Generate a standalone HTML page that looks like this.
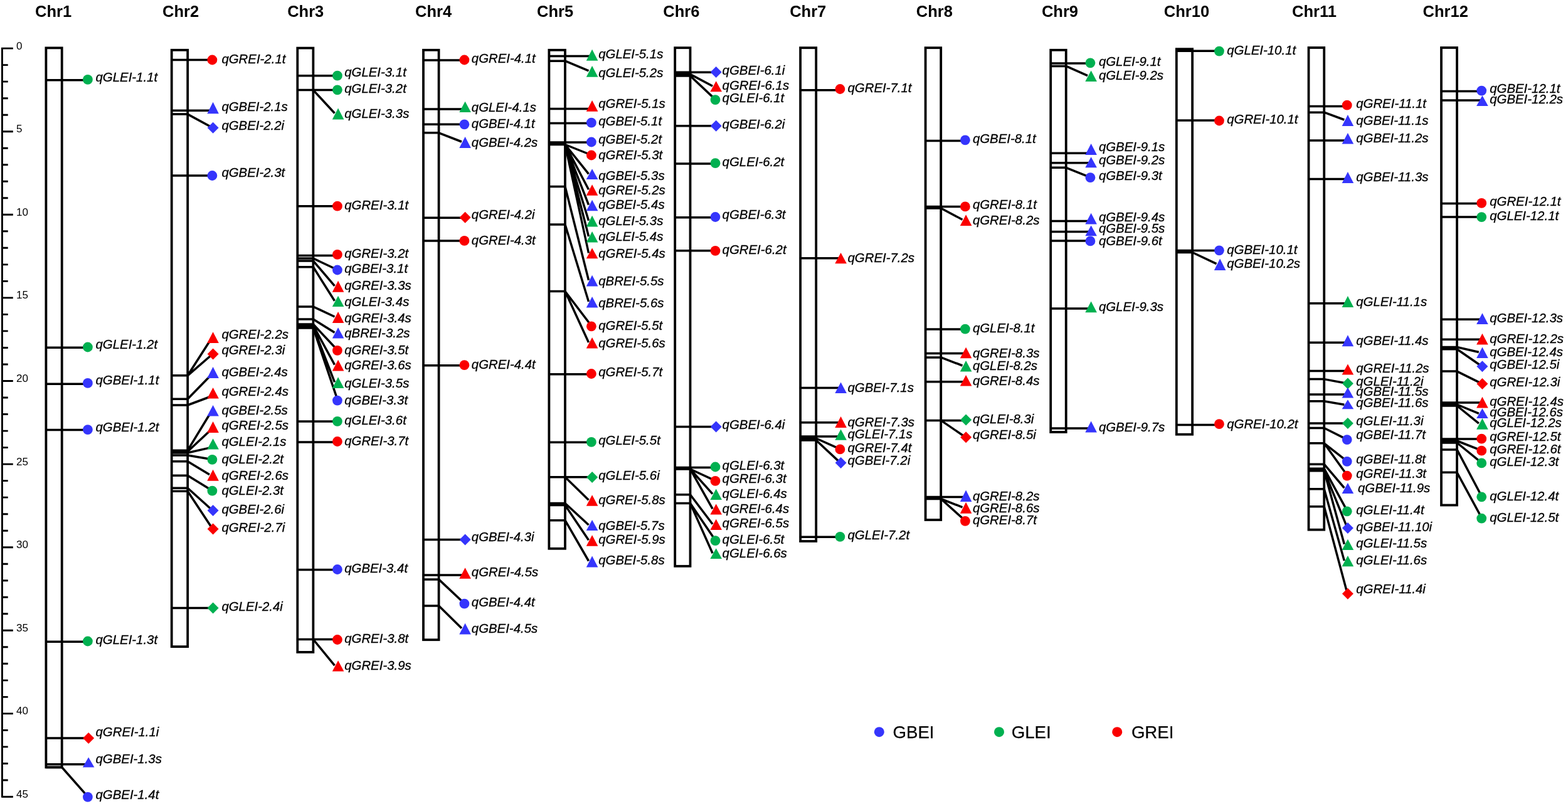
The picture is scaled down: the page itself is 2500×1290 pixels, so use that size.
<!DOCTYPE html>
<html><head><meta charset="utf-8"><title>QTL map</title>
<style>html,body{margin:0;padding:0;background:#fff;}svg{display:block;}.t{font-family:"Liberation Sans",Arial,sans-serif;font-weight:bold;font-size:25.5px;}.l{font-family:"Liberation Sans",Arial,sans-serif;font-style:italic;font-size:20.4px;stroke:#000;stroke-width:0.3px;}.a{font-family:"Liberation Sans",Arial,sans-serif;font-size:17px;}.g{font-family:"Liberation Sans",Arial,sans-serif;font-size:27.6px;stroke:#000;stroke-width:0.25px;}</style></head><body>
<svg width="2500" height="1290" viewBox="0 0 2500 1290">
<rect width="2500" height="1290" fill="#fff"/>
<path d="M3.4 75.8V1271.8M3.4 77.1H20.8M3.4 103.6H12.7M3.4 130.1H12.7M3.4 156.7H12.7M3.4 183.2H12.7M3.4 209.7H20.8M3.4 236.2H12.7M3.4 262.7H12.7M3.4 289.3H12.7M3.4 315.8H12.7M3.4 342.3H20.8M3.4 368.8H12.7M3.4 395.3H12.7M3.4 421.9H12.7M3.4 448.4H12.7M3.4 474.9H20.8M3.4 501.4H12.7M3.4 527.9H12.7M3.4 554.5H12.7M3.4 581H12.7M3.4 607.5H20.8M3.4 634H12.7M3.4 660.5H12.7M3.4 687.1H12.7M3.4 713.6H12.7M3.4 740.1H20.8M3.4 766.6H12.7M3.4 793.1H12.7M3.4 819.7H12.7M3.4 846.2H12.7M3.4 872.7H20.8M3.4 899.2H12.7M3.4 925.7H12.7M3.4 952.3H12.7M3.4 978.8H12.7M3.4 1005.3H20.8M3.4 1031.8H12.7M3.4 1058.3H12.7M3.4 1084.9H12.7M3.4 1111.4H12.7M3.4 1137.9H20.8M3.4 1164.4H12.7M3.4 1190.9H12.7M3.4 1217.5H12.7M3.4 1244H12.7M3.4 1270.5H20.8" stroke="#000" stroke-width="2.9" fill="none"/>
<text class="a" x="26" y="78.6">0</text>
<text class="a" x="26" y="211.2">5</text>
<text class="a" x="26" y="343.8">10</text>
<text class="a" x="26" y="476.4">15</text>
<text class="a" x="26" y="609">20</text>
<text class="a" x="26" y="741.6">25</text>
<text class="a" x="26" y="874.2">30</text>
<text class="a" x="26" y="1006.8">35</text>
<text class="a" x="26" y="1139.4">40</text>
<text class="a" x="26" y="1272">45</text>
<text class="t" x="56" y="26.6">Chr1</text>
<rect x="73.4" y="76.4" width="25.3" height="1147.1" fill="none" stroke="#000" stroke-width="3.8"/>
<path d="M73.4 127.8H98.7M73.4 554.2H98.7M73.4 612.2H98.7M73.4 685.4H98.7M73.4 1023.3H98.7M73.4 1176.9H98.7M73.4 1218.7H98.7M73.4 1223.5H98.7" stroke="#000" stroke-width="3.5" fill="none"/>
<path d="M98.7 127.8H140.5M98.7 554.2H140.5M98.7 612.2H140.5M98.7 685.4H140.5M98.7 1023.3H140.5M98.7 1176.9H140.5M98.7 1218.7H140.5M98.7 1223.5L140.5 1270.8" stroke="#000" stroke-width="3.5" fill="none"/>
<circle cx="139.9" cy="126.9" r="7.9" fill="#00b050"/>
<circle cx="139.9" cy="553.5" r="7.9" fill="#00b050"/>
<circle cx="139.9" cy="610.9" r="7.9" fill="#3535fc"/>
<circle cx="139.9" cy="685.1" r="7.9" fill="#3535fc"/>
<circle cx="139.9" cy="1022.5" r="7.9" fill="#00b050"/>
<path d="M141.1 1167.9L150.1 1176.9L141.1 1185.9L132.1 1176.9Z" fill="#fa0000"/>
<path d="M141.1 1207.5L150.4 1223.5L131.8 1223.5Z" fill="#3535fc"/>
<circle cx="139.9" cy="1270.8" r="7.9" fill="#3535fc"/>
<text class="l" x="152.5" y="130">qGLEI-1.1t</text>
<text class="l" x="152.5" y="556.4">qGLEI-1.2t</text>
<text class="l" x="152.5" y="613">qGBEI-1.1t</text>
<text class="l" x="152.5" y="687.8">qGBEI-1.2t</text>
<text class="l" x="152.5" y="1026.5">qGLEI-1.3t</text>
<text class="l" x="152.5" y="1173.9">qGREI-1.1i</text>
<text class="l" x="152.5" y="1217">qGBEI-1.3s</text>
<text class="l" x="152.5" y="1273.8">qGBEI-1.4t</text>
<text class="t" x="259" y="26.6">Chr2</text>
<rect x="273.7" y="79.8" width="25.5" height="951.3" fill="none" stroke="#000" stroke-width="3.8"/>
<path d="M273.7 95.5H299.2M273.7 176.2H299.2M273.7 182.1H299.2M273.7 280H299.2M273.7 598.8H299.2M273.7 636.3H299.2M273.7 646H299.2M273.7 718.2H299.2M273.7 720H299.2M273.7 722H299.2M273.7 726H299.2M273.7 735.7H299.2M273.7 758.3H299.2M273.7 778.3H299.2M273.7 783.2H299.2M273.7 969.5H299.2" stroke="#000" stroke-width="3.5" fill="none"/>
<path d="M299.2 95.5H339M299.2 176.2H339M299.2 182.1L339 203.7M299.2 280H339M299.2 598.8L334 544.5M299.2 598.8L339 564.5M299.2 636.3L334 600.5M299.2 646L334 633M299.2 718.2L334 661M299.2 720L334 687.5M299.2 722L334 714.1M299.2 726L339 732.8M299.2 735.7L334 756.7M299.2 758.3L339 782.7M299.2 778.3L339 814M299.2 783.2L339 843.5M299.2 969.5H339" stroke="#000" stroke-width="3.5" fill="none"/>
<circle cx="338.4" cy="95.5" r="7.9" fill="#fa0000"/>
<path d="M339.6 162.8L348.9 181.2L330.3 181.2Z" fill="#3535fc"/>
<path d="M339.6 194.7L348.6 203.7L339.6 212.7L330.6 203.7Z" fill="#3535fc"/>
<circle cx="338.4" cy="280" r="7.9" fill="#3535fc"/>
<path d="M339.6 529.2L348.9 547L330.3 547Z" fill="#fa0000"/>
<path d="M339.6 555.5L348.6 564.5L339.6 573.5L330.6 564.5Z" fill="#fa0000"/>
<path d="M339.6 585L348.9 603L330.3 603Z" fill="#3535fc"/>
<path d="M339.6 618L348.9 635.5L330.3 635.5Z" fill="#fa0000"/>
<path d="M339.6 646L348.9 663.5L330.3 663.5Z" fill="#3535fc"/>
<path d="M339.6 672L348.9 690L330.3 690Z" fill="#fa0000"/>
<path d="M339.6 699.2L348.9 716.6L330.3 716.6Z" fill="#00b050"/>
<circle cx="338.4" cy="732.8" r="7.9" fill="#00b050"/>
<path d="M339.6 748.7L348.9 766.7L330.3 766.7Z" fill="#fa0000"/>
<circle cx="338.4" cy="782.7" r="7.9" fill="#00b050"/>
<path d="M339.6 805L348.6 814L339.6 823L330.6 814Z" fill="#3535fc"/>
<path d="M339.6 834.5L348.6 843.5L339.6 852.5L330.6 843.5Z" fill="#fa0000"/>
<path d="M339.6 960.5L348.6 969.5L339.6 978.5L330.6 969.5Z" fill="#00b050"/>
<text class="l" x="353.4" y="100.7">qGREI-2.1t</text>
<text class="l" x="353.4" y="177.1">qGBEI-2.1s</text>
<text class="l" x="353.4" y="207.3">qGBEI-2.2i</text>
<text class="l" x="353.4" y="282.4">qGBEI-2.3t</text>
<text class="l" x="353.4" y="540.3">qGREI-2.2s</text>
<text class="l" x="353.4" y="565.2">qGREI-2.3i</text>
<text class="l" x="353.4" y="599.6">qGBEI-2.4s</text>
<text class="l" x="353.4" y="631">qGREI-2.4s</text>
<text class="l" x="353.4" y="660.5">qGBEI-2.5s</text>
<text class="l" x="353.4" y="685.4">qGREI-2.5s</text>
<text class="l" x="353.4" y="711">qGLEI-2.1s</text>
<text class="l" x="353.4" y="738.9">qGLEI-2.2t</text>
<text class="l" x="353.4" y="764.5">qGREI-2.6s</text>
<text class="l" x="353.4" y="788.9">qGLEI-2.3t</text>
<text class="l" x="353.4" y="819.2">qGBEI-2.6i</text>
<text class="l" x="353.4" y="848.2">qGREI-2.7i</text>
<text class="l" x="353.4" y="974">qGLEI-2.4i</text>
<text class="t" x="458.2" y="26.6">Chr3</text>
<rect x="474.3" y="76.6" width="25.1" height="963.3" fill="none" stroke="#000" stroke-width="3.8"/>
<path d="M474.3 120.7H499.4M474.3 143.6H499.4M474.3 328.7H499.4M474.3 407.4H499.4M474.3 412H499.4M474.3 416H499.4M474.3 425.8H499.4M474.3 489H499.4M474.3 509H499.4M474.3 517H499.4M474.3 519H499.4M474.3 521H499.4M474.3 523H499.4M474.3 672H499.4M474.3 705H499.4M474.3 908.5H499.4M474.3 1019.5H499.4" stroke="#000" stroke-width="3.5" fill="none"/>
<path d="M499.4 120.7H538.5M499.4 143.6H538.5M499.4 143.6L533.5 180.5M499.4 328.7H538.5M499.4 407.4H538.5M499.4 412L538.5 430.5M499.4 416L533.5 455.8M499.4 425.8L533.5 479.8M499.4 489L533.5 505M499.4 509L533.5 530.3M499.4 517L538.5 558.8M499.4 519L533.5 581.7M499.4 521L533.5 609.3M499.4 523L538.5 638.6M499.4 672H538.5M499.4 705H538.5M499.4 908.5H538.5M499.4 1019.5H538.5M499.4 1019.5L533.5 1061.2" stroke="#000" stroke-width="3.5" fill="none"/>
<circle cx="537.9" cy="120.7" r="7.9" fill="#00b050"/>
<circle cx="537.9" cy="143.3" r="7.9" fill="#00b050"/>
<path d="M539.1 172.5L548.4 190.5L529.8 190.5Z" fill="#00b050"/>
<circle cx="537.9" cy="328.7" r="7.9" fill="#fa0000"/>
<circle cx="537.9" cy="405.8" r="7.9" fill="#fa0000"/>
<circle cx="537.9" cy="430.5" r="7.9" fill="#3535fc"/>
<path d="M539.1 447.8L548.4 465.7L529.8 465.7Z" fill="#fa0000"/>
<path d="M539.1 471.8L548.4 489L529.8 489Z" fill="#00b050"/>
<path d="M539.1 497L548.4 515L529.8 515Z" fill="#fa0000"/>
<path d="M539.1 522.3L548.4 539.6L529.8 539.6Z" fill="#3535fc"/>
<circle cx="537.9" cy="558.8" r="7.9" fill="#fa0000"/>
<path d="M539.1 573.7L548.4 591.5L529.8 591.5Z" fill="#fa0000"/>
<path d="M539.1 601.3L548.4 618.9L529.8 618.9Z" fill="#00b050"/>
<circle cx="537.9" cy="638.6" r="7.9" fill="#3535fc"/>
<circle cx="537.9" cy="671.8" r="7.9" fill="#00b050"/>
<circle cx="537.9" cy="704" r="7.9" fill="#fa0000"/>
<circle cx="537.9" cy="908" r="7.9" fill="#3535fc"/>
<circle cx="537.9" cy="1020" r="7.9" fill="#fa0000"/>
<path d="M539.1 1053.2L548.4 1070.5L529.8 1070.5Z" fill="#fa0000"/>
<text class="l" x="549.2" y="122.2">qGLEI-3.1t</text>
<text class="l" x="549.2" y="147.8">qGLEI-3.2t</text>
<text class="l" x="549.2" y="187.6">qGLEI-3.3s</text>
<text class="l" x="549.2" y="334.1">qGREI-3.1t</text>
<text class="l" x="549.2" y="410.7">qGREI-3.2t</text>
<text class="l" x="549.2" y="434.9">qGBEI-3.1t</text>
<text class="l" x="549.2" y="462.4">qGREI-3.3s</text>
<text class="l" x="549.2" y="487.5">qGLEI-3.4s</text>
<text class="l" x="549.2" y="513.6">qGREI-3.4s</text>
<text class="l" x="549.2" y="538">qBREI-3.2s</text>
<text class="l" x="549.2" y="564.7">qGREI-3.5t</text>
<text class="l" x="549.2" y="589.2">qGREI-3.6s</text>
<text class="l" x="549.2" y="618.3">qGLEI-3.5s</text>
<text class="l" x="549.2" y="645">qGBEI-3.3t</text>
<text class="l" x="549.2" y="677.2">qGLEI-3.6t</text>
<text class="l" x="549.2" y="709.8">qGREI-3.7t</text>
<text class="l" x="549.2" y="913">qGBEI-3.4t</text>
<text class="l" x="549.2" y="1025.2">qGREI-3.8t</text>
<text class="l" x="549.2" y="1067.9">qGREI-3.9s</text>
<text class="t" x="662" y="26.6">Chr4</text>
<rect x="675" y="79.8" width="24.6" height="940.4" fill="none" stroke="#000" stroke-width="3.8"/>
<path d="M675 95.9H699.6M675 174H699.6M675 198.3H699.6M675 211.8H699.6M675 347.3H699.6M675 383.9H699.6M675 582.7H699.6M675 860.4H699.6M675 917H699.6M675 923.9H699.6M675 966H699.6" stroke="#000" stroke-width="3.5" fill="none"/>
<path d="M699.6 95.9H741M699.6 174H741M699.6 198.3H741M699.6 211.8L736 226M699.6 347.3H741M699.6 383.9H741M699.6 582.7H741M699.6 860.4H741M699.6 917H741M699.6 923.9L741 962.7M699.6 966L736 1001.7" stroke="#000" stroke-width="3.5" fill="none"/>
<circle cx="740.4" cy="95.5" r="7.9" fill="#fa0000"/>
<path d="M741.6 161.7L750.9 179L732.3 179Z" fill="#00b050"/>
<circle cx="740.4" cy="198.3" r="7.9" fill="#3535fc"/>
<path d="M741.6 218L750.9 236L732.3 236Z" fill="#3535fc"/>
<path d="M741.6 337.8L750.6 346.8L741.6 355.8L732.6 346.8Z" fill="#fa0000"/>
<circle cx="740.4" cy="383.9" r="7.9" fill="#fa0000"/>
<circle cx="740.4" cy="582.2" r="7.9" fill="#fa0000"/>
<path d="M741.6 851.4L750.6 860.4L741.6 869.4L732.6 860.4Z" fill="#3535fc"/>
<path d="M741.6 905.3L750.9 922.8L732.3 922.8Z" fill="#fa0000"/>
<circle cx="740.4" cy="962.7" r="7.9" fill="#3535fc"/>
<path d="M741.6 993.7L750.9 1011.4L732.3 1011.4Z" fill="#3535fc"/>
<text class="l" x="751.8" y="100.2">qGREI-4.1t</text>
<text class="l" x="751.8" y="177.5">qGLEI-4.1s</text>
<text class="l" x="751.8" y="203.8">qGBEI-4.1t</text>
<text class="l" x="751.8" y="234">qGBEI-4.2s</text>
<text class="l" x="751.8" y="349.2">qGREI-4.2i</text>
<text class="l" x="751.8" y="389.8">qGREI-4.3t</text>
<text class="l" x="751.8" y="588">qGREI-4.4t</text>
<text class="l" x="751.8" y="863.3">qGBEI-4.3i</text>
<text class="l" x="751.8" y="918.7">qGREI-4.5s</text>
<text class="l" x="751.8" y="967.1">qGBEI-4.4t</text>
<text class="l" x="751.8" y="1009.4">qGBEI-4.5s</text>
<text class="t" x="856" y="26.6">Chr5</text>
<rect x="875.4" y="79.8" width="25.6" height="795" fill="none" stroke="#000" stroke-width="3.8"/>
<path d="M875.4 89.5H901M875.4 97.2H901M875.4 173.4H901M875.4 196.5H901M875.4 227H901M875.4 230.5H901M875.4 297.5H901M875.4 358H901M875.4 464.5H901M875.4 596.8H901M875.4 705.2H901M875.4 760.8H901M875.4 802.5H901M875.4 805.5H901M875.4 829.7H901" stroke="#000" stroke-width="3.5" fill="none"/>
<path d="M901 89.5H943.5M901 97.2L938.5 112.9M901 173.4H943.5M901 196.5H943.5M901 227H943.5M901 230.5L943.5 247.5M901 230.5L938.5 277.3M901 230.5L938.5 302.3M901 230.5L938.5 326.7M901 230.5L938.5 351.8M901 230.5L938.5 377M901 230.5L938.5 403.5M901 297.5L938.5 446.8M901 358L938.5 481.1M901 464.5L943.5 520.3M901 464.5L938.5 545.9M901 596.8H943.5M901 705.2H943.5M901 760.8H943.5M901 760.8L938.5 797.3M901 802.5L938.5 837M901 805.5L938.5 861.3M901 829.7L938.5 894.5" stroke="#000" stroke-width="3.5" fill="none"/>
<path d="M944.1 78.8L953.4 96.7L934.8 96.7Z" fill="#00b050"/>
<path d="M944.1 104.9L953.4 122.8L934.8 122.8Z" fill="#00b050"/>
<path d="M944.1 159.9L953.4 177.8L934.8 177.8Z" fill="#fa0000"/>
<circle cx="942.9" cy="195.7" r="7.9" fill="#3535fc"/>
<circle cx="942.9" cy="226.5" r="7.9" fill="#3535fc"/>
<circle cx="942.9" cy="247.5" r="7.9" fill="#fa0000"/>
<path d="M944.1 269.3L953.4 286L934.8 286Z" fill="#3535fc"/>
<path d="M944.1 294.3L953.4 311.7L934.8 311.7Z" fill="#fa0000"/>
<path d="M944.1 318.7L953.4 336.3L934.8 336.3Z" fill="#3535fc"/>
<path d="M944.1 343.8L953.4 361.4L934.8 361.4Z" fill="#00b050"/>
<path d="M944.1 369L953.4 386.5L934.8 386.5Z" fill="#00b050"/>
<path d="M944.1 395.5L953.4 412.2L934.8 412.2Z" fill="#fa0000"/>
<path d="M944.1 438.8L953.4 456.4L934.8 456.4Z" fill="#3535fc"/>
<path d="M944.1 473.1L953.4 490.4L934.8 490.4Z" fill="#3535fc"/>
<circle cx="942.9" cy="520.3" r="7.9" fill="#fa0000"/>
<path d="M944.1 537.9L953.4 555.5L934.8 555.5Z" fill="#fa0000"/>
<circle cx="942.9" cy="596" r="7.9" fill="#fa0000"/>
<circle cx="942.9" cy="704.9" r="7.9" fill="#00b050"/>
<path d="M944.1 752L953.1 761L944.1 770L935.1 761Z" fill="#00b050"/>
<path d="M944.1 789.3L953.4 806.7L934.8 806.7Z" fill="#fa0000"/>
<path d="M944.1 829L953.4 846.1L934.8 846.1Z" fill="#3535fc"/>
<path d="M944.1 853.3L953.4 870.7L934.8 870.7Z" fill="#fa0000"/>
<path d="M944.1 886.5L953.4 904.4L934.8 904.4Z" fill="#3535fc"/>
<text class="l" x="954.2" y="93.3">qGLEI-5.1s</text>
<text class="l" x="954.2" y="123">qGLEI-5.2s</text>
<text class="l" x="954.2" y="172.4">qGREI-5.1s</text>
<text class="l" x="954.2" y="200.3">qGBEI-5.1t</text>
<text class="l" x="954.2" y="229.4">qGBEI-5.2t</text>
<text class="l" x="954.2" y="253.8">qGREI-5.3t</text>
<text class="l" x="954.2" y="286.8">qGBEI-5.3s</text>
<text class="l" x="954.2" y="309.6">qGREI-5.2s</text>
<text class="l" x="954.2" y="332.9">qGBEI-5.4s</text>
<text class="l" x="954.2" y="359">qGLEI-5.3s</text>
<text class="l" x="954.2" y="383.7">qGLEI-5.4s</text>
<text class="l" x="954.2" y="411">qGREI-5.4s</text>
<text class="l" x="954.2" y="454.7">qBREI-5.5s</text>
<text class="l" x="954.2" y="489.6">qBREI-5.6s</text>
<text class="l" x="954.2" y="526.1">qGREI-5.5t</text>
<text class="l" x="954.2" y="553.6">qGREI-5.6s</text>
<text class="l" x="954.2" y="600.1">qGREI-5.7t</text>
<text class="l" x="954.2" y="709.3">qGLEI-5.5t</text>
<text class="l" x="954.2" y="764.5">qGLEI-5.6i</text>
<text class="l" x="954.2" y="804">qGREI-5.8s</text>
<text class="l" x="954.2" y="844.7">qGBEI-5.7s</text>
<text class="l" x="954.2" y="866.8">qGREI-5.9s</text>
<text class="l" x="954.2" y="900.1">qGBEI-5.8s</text>
<text class="t" x="1057.3" y="26.6">Chr6</text>
<rect x="1076.2" y="76.2" width="24.3" height="826.6" fill="none" stroke="#000" stroke-width="3.8"/>
<path d="M1076.2 115.2H1100.5M1076.2 118.4H1100.5M1076.2 121H1100.5M1076.2 200.8H1100.5M1076.2 260.9H1100.5M1076.2 346.8H1100.5M1076.2 399.8H1100.5M1076.2 680.6H1100.5M1076.2 745.5H1100.5M1076.2 748H1100.5M1076.2 788.8H1100.5M1076.2 802.6H1100.5" stroke="#000" stroke-width="3.5" fill="none"/>
<path d="M1100.5 115.2H1141.1M1100.5 118.4L1136.1 137.2M1100.5 121L1141.1 159.1M1100.5 200.8H1141.1M1100.5 260.9H1141.1M1100.5 346.8H1141.1M1100.5 399.8H1141.1M1100.5 680.6H1141.1M1100.5 745.5H1141.1M1100.5 748L1141.1 766.8M1100.5 748L1136.1 787.6M1100.5 748L1136.1 811.4M1100.5 788.8L1136.1 835.7M1100.5 802.6L1141.1 862.2M1100.5 802.6L1136.1 882.2" stroke="#000" stroke-width="3.5" fill="none"/>
<path d="M1141.7 106.1L1150.7 115.1L1141.7 124.1L1132.7 115.1Z" fill="#3535fc"/>
<path d="M1141.7 129.2L1151 146.3L1132.4 146.3Z" fill="#fa0000"/>
<circle cx="1140.5" cy="159.1" r="7.9" fill="#00b050"/>
<path d="M1141.7 191.8L1150.7 200.8L1141.7 209.8L1132.7 200.8Z" fill="#3535fc"/>
<circle cx="1140.5" cy="260.2" r="7.9" fill="#00b050"/>
<circle cx="1140.5" cy="346" r="7.9" fill="#3535fc"/>
<circle cx="1140.5" cy="399.8" r="7.9" fill="#fa0000"/>
<path d="M1141.7 671.6L1150.7 680.6L1141.7 689.6L1132.7 680.6Z" fill="#3535fc"/>
<circle cx="1140.5" cy="744.5" r="7.9" fill="#00b050"/>
<circle cx="1140.5" cy="766.8" r="7.9" fill="#fa0000"/>
<path d="M1141.7 779.6L1151 797L1132.4 797Z" fill="#00b050"/>
<path d="M1141.7 803.4L1151 820.5L1132.4 820.5Z" fill="#fa0000"/>
<path d="M1141.7 827.7L1151 845L1132.4 845Z" fill="#fa0000"/>
<circle cx="1140.5" cy="862.2" r="7.9" fill="#00b050"/>
<path d="M1141.7 874.2L1151 891.1L1132.4 891.1Z" fill="#00b050"/>
<text class="l" x="1151.6" y="118.9">qGBEI-6.1i</text>
<text class="l" x="1151.6" y="143.3">qGREI-6.1s</text>
<text class="l" x="1151.6" y="163">qGLEI-6.1t</text>
<text class="l" x="1151.6" y="205">qGBEI-6.2i</text>
<text class="l" x="1151.6" y="265.4">qGLEI-6.2t</text>
<text class="l" x="1151.6" y="349.2">qGBEI-6.3t</text>
<text class="l" x="1151.6" y="405.1">qGREI-6.2t</text>
<text class="l" x="1151.6" y="684.2">qGBEI-6.4i</text>
<text class="l" x="1151.6" y="749.4">qGLEI-6.3t</text>
<text class="l" x="1151.6" y="770.3">qGREI-6.3t</text>
<text class="l" x="1151.6" y="793.6">qGLEI-6.4s</text>
<text class="l" x="1151.6" y="818">qGREI-6.4s</text>
<text class="l" x="1151.6" y="841.3">qGREI-6.5s</text>
<text class="l" x="1151.6" y="866.8">qGLEI-6.5t</text>
<text class="l" x="1151.6" y="889">qGLEI-6.6s</text>
<text class="t" x="1259.2" y="26.6">Chr7</text>
<rect x="1276.1" y="76.2" width="25.1" height="786.8" fill="none" stroke="#000" stroke-width="3.8"/>
<path d="M1276.1 143.8H1301.2M1276.1 411.8H1301.2M1276.1 618.4H1301.2M1276.1 673.7H1301.2M1276.1 696H1301.2M1276.1 699H1301.2M1276.1 702H1301.2M1276.1 856.3H1301.2" stroke="#000" stroke-width="3.5" fill="none"/>
<path d="M1301.2 143.8H1340M1301.2 411.8H1340M1301.2 618.4H1340M1301.2 673.7H1340M1301.2 696H1340M1301.2 699L1340 716.4M1301.2 702L1340 738.1M1301.2 856.3H1340" stroke="#000" stroke-width="3.5" fill="none"/>
<circle cx="1339.4" cy="142" r="7.9" fill="#fa0000"/>
<path d="M1340.6 403.1L1349.9 420.2L1331.3 420.2Z" fill="#fa0000"/>
<path d="M1340.6 609.5L1349.9 627L1331.3 627Z" fill="#3535fc"/>
<path d="M1340.6 664L1349.9 681.9L1331.3 681.9Z" fill="#fa0000"/>
<path d="M1340.6 684.4L1349.9 701.8L1331.3 701.8Z" fill="#00b050"/>
<circle cx="1339.4" cy="716.4" r="7.9" fill="#fa0000"/>
<path d="M1340.6 729.1L1349.6 738.1L1340.6 747.1L1331.6 738.1Z" fill="#3535fc"/>
<circle cx="1339.4" cy="855.8" r="7.9" fill="#00b050"/>
<text class="l" x="1351.5" y="146.5">qGREI-7.1t</text>
<text class="l" x="1351.5" y="417.9">qGREI-7.2s</text>
<text class="l" x="1351.5" y="625">qGBEI-7.1s</text>
<text class="l" x="1351.5" y="679.5">qGREI-7.3s</text>
<text class="l" x="1351.5" y="699">qGLEI-7.1s</text>
<text class="l" x="1351.5" y="721">qGREI-7.4t</text>
<text class="l" x="1351.5" y="741.3">qGBEI-7.2i</text>
<text class="l" x="1351.5" y="860.4">qGLEI-7.2t</text>
<text class="t" x="1460.8" y="26.6">Chr8</text>
<rect x="1475.6" y="76.2" width="24.6" height="752.8" fill="none" stroke="#000" stroke-width="3.8"/>
<path d="M1475.6 224.6H1500.2M1475.6 329.5H1500.2M1475.6 332H1500.2M1475.6 525.1H1500.2M1475.6 563.5H1500.2M1475.6 569.9H1500.2M1475.6 608.8H1500.2M1475.6 670.4H1500.2M1475.6 792.5H1500.2M1475.6 795.5H1500.2" stroke="#000" stroke-width="3.5" fill="none"/>
<path d="M1500.2 224.6H1539.5M1500.2 329.5H1539.5M1500.2 332L1534.5 350.2M1500.2 525.1H1539.5M1500.2 563.5H1539.5M1500.2 569.9L1534.5 583M1500.2 608.8H1539.5M1500.2 670.4H1539.5M1500.2 670.4L1539.5 697.2M1500.2 792.5H1539.5M1500.2 795.5L1534.5 808.8M1500.2 795.5L1539.5 830.8" stroke="#000" stroke-width="3.5" fill="none"/>
<circle cx="1538.9" cy="223.3" r="7.9" fill="#3535fc"/>
<circle cx="1538.9" cy="329.4" r="7.9" fill="#fa0000"/>
<path d="M1540.1 342.2L1549.4 360.1L1530.8 360.1Z" fill="#fa0000"/>
<circle cx="1538.9" cy="524.6" r="7.9" fill="#00b050"/>
<path d="M1540.1 553.8L1549.4 571.2L1530.8 571.2Z" fill="#fa0000"/>
<path d="M1540.1 575L1549.4 592.4L1530.8 592.4Z" fill="#00b050"/>
<path d="M1540.1 598L1549.4 615.4L1530.8 615.4Z" fill="#fa0000"/>
<path d="M1540.1 660.6L1549.1 669.6L1540.1 678.6L1531.1 669.6Z" fill="#00b050"/>
<path d="M1540.1 688.2L1549.1 697.2L1540.1 706.2L1531.1 697.2Z" fill="#fa0000"/>
<path d="M1540.1 781.4L1549.4 800L1530.8 800Z" fill="#3535fc"/>
<path d="M1540.1 800.8L1549.4 818.7L1530.8 818.7Z" fill="#fa0000"/>
<circle cx="1538.9" cy="830.8" r="7.9" fill="#fa0000"/>
<text class="l" x="1550.9" y="227.5">qGBEI-8.1t</text>
<text class="l" x="1550.9" y="333.4">qGREI-8.1t</text>
<text class="l" x="1550.9" y="358.3">qGREI-8.2s</text>
<text class="l" x="1550.9" y="529.6">qGLEI-8.1t</text>
<text class="l" x="1550.9" y="569.6">qGREI-8.3s</text>
<text class="l" x="1550.9" y="589.6">qGLEI-8.2s</text>
<text class="l" x="1550.9" y="613.8">qGREI-8.4s</text>
<text class="l" x="1550.9" y="675">qGLEI-8.3i</text>
<text class="l" x="1550.9" y="699.5">qGREI-8.5i</text>
<text class="l" x="1550.9" y="798">qGREI-8.2s</text>
<text class="l" x="1550.9" y="816.8">qGREI-8.6s</text>
<text class="l" x="1550.9" y="835.8">qGREI-8.7t</text>
<text class="t" x="1660.9" y="26.6">Chr9</text>
<rect x="1675.2" y="79.8" width="24.5" height="609.2" fill="none" stroke="#000" stroke-width="3.8"/>
<path d="M1675.2 101H1699.7M1675.2 105.4H1699.7M1675.2 244.3H1699.7M1675.2 259.7H1699.7M1675.2 267.3H1699.7M1675.2 352.4H1699.7M1675.2 369.6H1699.7M1675.2 383.9H1699.7M1675.2 491.9H1699.7M1675.2 683.1H1699.7" stroke="#000" stroke-width="3.5" fill="none"/>
<path d="M1699.7 101H1739M1699.7 105.4L1734 120.6M1699.7 244.3H1739M1699.7 259.7H1739M1699.7 267.3L1739 283.2M1699.7 352.4H1739M1699.7 369.6H1739M1699.7 383.9H1739M1699.7 491.9H1739M1699.7 683.1H1739" stroke="#000" stroke-width="3.5" fill="none"/>
<circle cx="1738.4" cy="100.3" r="7.9" fill="#00b050"/>
<path d="M1739.6 112.6L1748.9 130L1730.3 130Z" fill="#00b050"/>
<path d="M1739.6 229L1748.9 246.9L1730.3 246.9Z" fill="#3535fc"/>
<path d="M1739.6 250.2L1748.9 267.3L1730.3 267.3Z" fill="#3535fc"/>
<circle cx="1738.4" cy="283.2" r="7.9" fill="#3535fc"/>
<path d="M1739.6 339.7L1748.9 357.6L1730.3 357.6Z" fill="#3535fc"/>
<path d="M1739.6 359.4L1748.9 376.2L1730.3 376.2Z" fill="#3535fc"/>
<circle cx="1738.4" cy="384.4" r="7.9" fill="#3535fc"/>
<path d="M1739.6 480.4L1748.9 498.3L1730.3 498.3Z" fill="#00b050"/>
<path d="M1739.6 671.6L1748.9 689.5L1730.3 689.5Z" fill="#3535fc"/>
<text class="l" x="1751.9" y="104.8">qGLEI-9.1t</text>
<text class="l" x="1751.9" y="127.4">qGLEI-9.2s</text>
<text class="l" x="1751.9" y="241.2">qGBEI-9.1s</text>
<text class="l" x="1751.9" y="261.7">qGBEI-9.2s</text>
<text class="l" x="1751.9" y="287.2">qGBEI-9.3t</text>
<text class="l" x="1751.9" y="352.6">qGBEI-9.4s</text>
<text class="l" x="1751.9" y="370.8">qGBEI-9.5s</text>
<text class="l" x="1751.9" y="391">qGBEI-9.6t</text>
<text class="l" x="1751.9" y="495.9">qGLEI-9.3s</text>
<text class="l" x="1751.9" y="688.3">qGBEI-9.7s</text>
<text class="t" x="1855.8" y="26.6">Chr10</text>
<rect x="1875.8" y="78.2" width="25.3" height="614.5" fill="none" stroke="#000" stroke-width="3.8"/>
<path d="M1875.8 81.2H1901.1M1875.8 192H1901.1M1875.8 399.5H1901.1M1875.8 402.5H1901.1M1875.8 677.4H1901.1" stroke="#000" stroke-width="3.5" fill="none"/>
<path d="M1901.1 81.2H1944.5M1901.1 192H1944.5M1901.1 399.5H1944.5M1901.1 402.5L1939.5 420.6M1901.1 677.4H1944.5" stroke="#000" stroke-width="3.5" fill="none"/>
<circle cx="1943.9" cy="81.6" r="7.9" fill="#00b050"/>
<circle cx="1943.9" cy="192.5" r="7.9" fill="#fa0000"/>
<circle cx="1943.9" cy="399.3" r="7.9" fill="#3535fc"/>
<path d="M1945.1 412.6L1954.4 431.1L1935.8 431.1Z" fill="#3535fc"/>
<circle cx="1943.9" cy="676.2" r="7.9" fill="#fa0000"/>
<text class="l" x="1956.2" y="87">qGLEI-10.1t</text>
<text class="l" x="1956.2" y="197.3">qGREI-10.1t</text>
<text class="l" x="1956.2" y="404.5">qGBEI-10.1t</text>
<text class="l" x="1956.2" y="427">qGBEI-10.2s</text>
<text class="l" x="1956.2" y="682.9">qGREI-10.2t</text>
<text class="t" x="2060" y="26.6">Chr11</text>
<rect x="2086.5" y="76" width="24.7" height="768.7" fill="none" stroke="#000" stroke-width="3.8"/>
<path d="M2086.5 169.5H2111.2M2086.5 179.2H2111.2M2086.5 224H2111.2M2086.5 285.5H2111.2M2086.5 483.8H2111.2M2086.5 546.3H2111.2M2086.5 591.6H2111.2M2086.5 604.6H2111.2M2086.5 629H2111.2M2086.5 639.8H2111.2M2086.5 675H2111.2M2086.5 682.5H2111.2M2086.5 706.8H2111.2M2086.5 740.2H2111.2M2086.5 747.2H2111.2M2086.5 750.7H2111.2M2086.5 779.8H2111.2M2086.5 807.7H2111.2" stroke="#000" stroke-width="3.5" fill="none"/>
<path d="M2111.2 169.5H2148.3M2111.2 179.2L2143.3 191M2111.2 224H2148.3M2111.2 285.5H2148.3M2111.2 483.8H2148.3M2111.2 546.3H2148.3M2111.2 591.6H2148.3M2111.2 604.6L2148.3 611.5M2111.2 629H2148.3M2111.2 639.8L2143.3 645.2M2111.2 675H2148.3M2111.2 682.5L2148.3 701.1M2111.2 706.8L2148.3 735.8M2111.2 706.8L2148.3 758.6M2111.2 740.2L2143.3 778M2111.2 747.2L2148.3 815.3M2111.2 750.7L2148.3 842.1M2111.2 750.7L2143.3 867.7M2111.2 779.8L2143.3 894.1M2111.2 807.7L2148.3 946.8" stroke="#000" stroke-width="3.5" fill="none"/>
<circle cx="2147.7" cy="167.7" r="7.9" fill="#fa0000"/>
<path d="M2148.9 183L2158.2 201L2139.6 201Z" fill="#3535fc"/>
<path d="M2148.9 212L2158.2 229.6L2139.6 229.6Z" fill="#3535fc"/>
<path d="M2148.9 274L2158.2 291.9L2139.6 291.9Z" fill="#3535fc"/>
<path d="M2148.9 472L2158.2 490L2139.6 490Z" fill="#00b050"/>
<path d="M2148.9 534.3L2158.2 552.2L2139.6 552.2Z" fill="#3535fc"/>
<path d="M2148.9 580.5L2158.2 597.6L2139.6 597.6Z" fill="#fa0000"/>
<path d="M2148.9 602.5L2157.9 611.5L2148.9 620.5L2139.9 611.5Z" fill="#00b050"/>
<path d="M2148.9 617.8L2158.2 634.6L2139.6 634.6Z" fill="#3535fc"/>
<path d="M2148.9 637.2L2158.2 652.2L2139.6 652.2Z" fill="#3535fc"/>
<path d="M2148.9 666L2157.9 675L2148.9 684L2139.9 675Z" fill="#00b050"/>
<circle cx="2147.7" cy="701.1" r="7.9" fill="#3535fc"/>
<circle cx="2147.7" cy="735.8" r="7.9" fill="#3535fc"/>
<circle cx="2147.7" cy="758.6" r="7.9" fill="#fa0000"/>
<path d="M2148.9 770L2158.2 787L2139.6 787Z" fill="#3535fc"/>
<circle cx="2147.7" cy="815.3" r="7.9" fill="#00b050"/>
<path d="M2148.9 833.1L2157.9 842.1L2148.9 851.1L2139.9 842.1Z" fill="#3535fc"/>
<path d="M2148.9 859.7L2158.2 876.9L2139.6 876.9Z" fill="#00b050"/>
<path d="M2148.9 886.1L2158.2 903.3L2139.6 903.3Z" fill="#00b050"/>
<path d="M2148.9 937.8L2157.9 946.8L2148.9 955.8L2139.9 946.8Z" fill="#fa0000"/>
<text class="l" x="2162.2" y="171.7">qGREI-11.1t</text>
<text class="l" x="2162.2" y="198.5">qGBEI-11.1s</text>
<text class="l" x="2162.2" y="227.2">qGBEI-11.2s</text>
<text class="l" x="2162.2" y="288.8">qGBEI-11.3s</text>
<text class="l" x="2162.2" y="487.5">qGLEI-11.1s</text>
<text class="l" x="2162.2" y="549.7">qGBEI-11.4s</text>
<text class="l" x="2162.2" y="594">qGREI-11.2s</text>
<text class="l" x="2162.2" y="614.8">qGLEI-11.2i</text>
<text class="l" x="2162.2" y="631.2">qGBEI-11.5s</text>
<text class="l" x="2162.2" y="649.4">qGBEI-11.6s</text>
<text class="l" x="2162.2" y="677.7">qGLEI-11.3i</text>
<text class="l" x="2162.2" y="699.5">qGBEI-11.7t</text>
<text class="l" x="2162.2" y="739">qGBEI-11.8t</text>
<text class="l" x="2162.2" y="762">qGREI-11.3t</text>
<text class="l" x="2165" y="785.3">qGBEI-11.9s</text>
<text class="l" x="2162.2" y="820">qGLEI-11.4t</text>
<text class="l" x="2162.2" y="846.7">qGBEI-11.10i</text>
<text class="l" x="2162.2" y="873.2">qGLEI-11.5s</text>
<text class="l" x="2162.2" y="900.3">qGLEI-11.6s</text>
<text class="l" x="2162.2" y="945.9">qGREI-11.4i</text>
<text class="t" x="2268.6" y="26.6">Chr12</text>
<rect x="2298" y="76" width="25" height="729.5" fill="none" stroke="#000" stroke-width="3.8"/>
<path d="M2298 145.4H2323M2298 160H2323M2298 324.6H2323M2298 346.1H2323M2298 509.2H2323M2298 541.2H2323M2298 553.5H2323M2298 556.8H2323M2298 592.1H2323M2298 642H2323M2298 645H2323M2298 647H2323M2298 700H2323M2298 703H2323M2298 706H2323M2298 716.9H2323M2298 753.3H2323" stroke="#000" stroke-width="3.5" fill="none"/>
<path d="M2323 145.4H2362.8M2323 160H2362.8M2323 324.6H2362.8M2323 346.1H2362.8M2323 509.2H2362.8M2323 541.2H2362.8M2323 553.5L2357.8 561.5M2323 556.8L2362.8 584.2M2323 592.1L2362.8 611.9M2323 642H2362.8M2323 645L2357.8 659.3M2323 647L2357.8 675.1M2323 700H2362.8M2323 703L2362.8 718.7M2323 706L2362.8 738.4M2323 716.9L2362.8 792.3M2323 753.3L2362.8 826.6" stroke="#000" stroke-width="3.5" fill="none"/>
<circle cx="2362.2" cy="144.6" r="7.9" fill="#3535fc"/>
<path d="M2363.4 152.3L2372.7 169L2354.1 169Z" fill="#3535fc"/>
<circle cx="2362.2" cy="323.9" r="7.9" fill="#fa0000"/>
<circle cx="2362.2" cy="346.1" r="7.9" fill="#00b050"/>
<path d="M2363.4 499.2L2372.7 517.1L2354.1 517.1Z" fill="#3535fc"/>
<path d="M2363.4 531.7L2372.7 549.6L2354.1 549.6Z" fill="#fa0000"/>
<path d="M2363.4 553.5L2372.7 570.9L2354.1 570.9Z" fill="#3535fc"/>
<path d="M2363.4 575.2L2372.4 584.2L2363.4 593.2L2354.4 584.2Z" fill="#3535fc"/>
<path d="M2363.4 602.9L2372.4 611.9L2363.4 620.9L2354.4 611.9Z" fill="#fa0000"/>
<path d="M2363.4 632.8L2372.7 650.4L2354.1 650.4Z" fill="#fa0000"/>
<path d="M2363.4 651.3L2372.7 667.1L2354.1 667.1Z" fill="#3535fc"/>
<path d="M2363.4 667.1L2372.7 684.7L2354.1 684.7Z" fill="#00b050"/>
<circle cx="2362.2" cy="699.7" r="7.9" fill="#fa0000"/>
<circle cx="2362.2" cy="718.7" r="7.9" fill="#fa0000"/>
<circle cx="2362.2" cy="738.4" r="7.9" fill="#00b050"/>
<circle cx="2362.2" cy="792.3" r="7.9" fill="#00b050"/>
<circle cx="2362.2" cy="826.6" r="7.9" fill="#00b050"/>
<text class="l" x="2375.2" y="147.9">qGBEI-12.1t</text>
<text class="l" x="2375.2" y="164.7">qGBEI-12.2s</text>
<text class="l" x="2375.2" y="328.4">qGREI-12.1t</text>
<text class="l" x="2375.2" y="350.7">qGLEI-12.1t</text>
<text class="l" x="2375.2" y="514">qGBEI-12.3s</text>
<text class="l" x="2375.2" y="546.5">qGREI-12.2s</text>
<text class="l" x="2375.2" y="567.9">qGBEI-12.4s</text>
<text class="l" x="2375.2" y="588.4">qGBEI-12.5i</text>
<text class="l" x="2375.2" y="616.3">qGREI-12.3i</text>
<text class="l" x="2375.2" y="647.4">qGREI-12.4s</text>
<text class="l" x="2375.2" y="663.6">qGBEI-12.6s</text>
<text class="l" x="2375.2" y="681.3">qGLEI-12.2s</text>
<text class="l" x="2375.2" y="703">qGREI-12.5t</text>
<text class="l" x="2375.2" y="722.6">qGREI-12.6t</text>
<text class="l" x="2375.2" y="742.9">qGLEI-12.3t</text>
<text class="l" x="2375.2" y="798.3">qGLEI-12.4t</text>
<text class="l" x="2375.2" y="832">qGLEI-12.5t</text>
<circle cx="1401.8" cy="1167.2" r="8" fill="#3535fc"/>
<text class="g" x="1423.6" y="1177.4">GBEI</text>
<circle cx="1593" cy="1167.2" r="8" fill="#00b050"/>
<text class="g" x="1612.8" y="1177.4">GLEI</text>
<circle cx="1781.2" cy="1167.2" r="8" fill="#fa0000"/>
<text class="g" x="1803.9" y="1177.4">GREI</text>
</svg></body></html>
